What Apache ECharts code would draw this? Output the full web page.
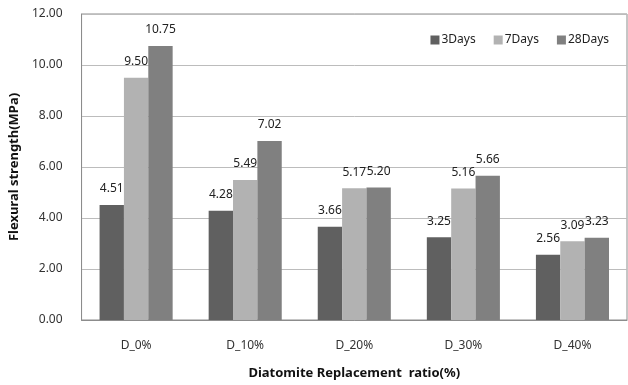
<!DOCTYPE html>
<html>
<head>
<meta charset="utf-8">
<script src="https://cdn.jsdelivr.net/npm/echarts@6/dist/echarts.min.js"></script>
<style>
  html, body { margin: 0; padding: 0; background: #fff; }
  #chart { width: 628px; height: 385px; }
</style>
</head>
<body>
<div id="chart"></div>
<script>
// Flexural strength by diatomite replacement ratio and curing age
const categories = ['D_0%', 'D_10%', 'D_20%', 'D_30%', 'D_40%'];
const days3 = [4.51, 4.28, 3.66, 3.25, 2.56];
const days7 = [9.50, 5.49, 5.17, 5.16, 3.09];
const days28 = [10.75, 7.02, 5.20, 5.66, 3.23];
const seriesNames = ['3Days', '7Days', '28Days'];
const yTicks = { min: 0, max: 12, interval: 2 };

const font = '"Noto Sans", "Open Sans", sans-serif';
const colors = ['#606060', '#b2b2b2', '#808080'];

function barSeries(name, data, color) {
  return {
    name: name,
    type: 'bar',
    data: data,
    barGap: '0%',
    barCategoryGap: '33%',
    itemStyle: { color: color },
    label: {
      show: true,
      position: 'top',
      distance: 10,
      formatter: p => p.value.toFixed(2),
      color: '#222',
      fontFamily: font,
      fontSize: 12
    }
  };
}

const chart = echarts.init(document.getElementById('chart'));
chart.setOption({
  animation: false,
  textStyle: { fontFamily: font },
  grid: {
    left: 81, right: 1, top: 14, bottom: 61,
    show: true, borderColor: '#8c8c8c', borderWidth: 1
  },
  legend: {
    data: seriesNames,
    top: 29,
    right: 14,
    itemWidth: 9,
    itemHeight: 9,
    itemGap: 18,
    icon: 'rect',
    textStyle: { fontFamily: font, fontSize: 12, color: '#222', padding: [0, 0, 0, -3] }
  },
  xAxis: {
    type: 'category',
    data: categories,
    name: 'Diatomite Replacement  ratio(%)',
    nameLocation: 'middle',
    nameGap: 47,
    nameTextStyle: { fontFamily: font, fontSize: 13, fontWeight: 'bold', color: '#111' },
    axisLine: { lineStyle: { color: '#8c8c8c' } },
    axisTick: { show: false },
    axisLabel: { margin: 20, fontSize: 12, color: '#333', fontFamily: font }
  },
  yAxis: {
    type: 'value',
    min: yTicks.min,
    max: yTicks.max,
    interval: yTicks.interval,
    name: 'Flexural strength(MPa)',
    nameLocation: 'middle',
    nameGap: 59,
    nameTextStyle: { fontFamily: font, fontSize: 13, fontWeight: 'bold', color: '#111' },
    axisLine: { show: true, lineStyle: { color: '#8c8c8c' } },
    axisTick: { show: false },
    axisLabel: { margin: 19, fontSize: 12, color: '#333', fontFamily: font, formatter: v => v.toFixed(2) },
    splitLine: { lineStyle: { color: '#bcbcbc', width: 1 } }
  },
  series: [
    barSeries(seriesNames[0], days3, colors[0]),
    barSeries(seriesNames[1], days7, colors[1]),
    barSeries(seriesNames[2], days28, colors[2])
  ]
});
</script>
</body>
</html>
